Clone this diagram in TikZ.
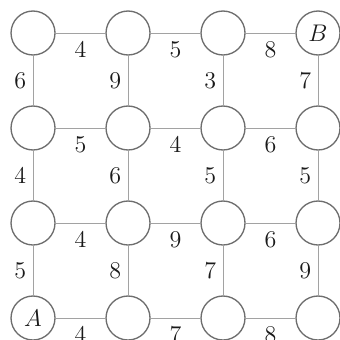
\documentclass[tikz,border=0pt]{standalone}
\usepackage{xcolor}
\usepackage{tikz}
\usetikzlibrary{positioning}
\definecolor{ink}{HTML}{1A1A1A}
\definecolor{edgegray}{HTML}{A2A2A2}
\definecolor{ringgray}{HTML}{6E6E6E}
\begin{document}
\begin{tikzpicture}[node distance=2cm, on grid, every node/.style={font=\Large,text=ink}, v/.style={circle,draw=ringgray,line width=0.8pt,fill=white,minimum size=0.926cm,inner sep=0pt}, e/.style={draw=edgegray,line width=0.6pt}, hw/.style={below=1.5pt}, vw/.style={left=0.5pt}]
\useasboundingbox (-0.695,-0.463) rectangle (6.442,6.695);
% grid of vertices, bottom row first
\node[v] (n11) {$A$};
\node[v,right=of n11] (n21) {};
\node[v,right=of n21] (n31) {};
\node[v,right=of n31] (n41) {};
\node[v,above=of n11] (n12) {};
\node[v,right=of n12] (n22) {};
\node[v,right=of n22] (n32) {};
\node[v,right=of n32] (n42) {};
\node[v,above=of n12] (n13) {};
\node[v,right=of n13] (n23) {};
\node[v,right=of n23] (n33) {};
\node[v,right=of n33] (n43) {};
\node[v,above=of n13] (n14) {};
\node[v,right=of n14] (n24) {};
\node[v,right=of n24] (n34) {};
\node[v,right=of n34] (n44) {$B$};
% horizontal edges
\draw[e] (n14)--(n24) node[midway,hw]{4};\draw[e] (n24)--(n34) node[midway,hw]{5};\draw[e] (n34)--(n44) node[midway,hw]{8};
\draw[e] (n13)--(n23) node[midway,hw]{5};\draw[e] (n23)--(n33) node[midway,hw]{4};\draw[e] (n33)--(n43) node[midway,hw]{6};
\draw[e] (n12)--(n22) node[midway,hw]{4};\draw[e] (n22)--(n32) node[midway,hw]{9};\draw[e] (n32)--(n42) node[midway,hw]{6};
\draw[e] (n11)--(n21) node[midway,hw]{4};\draw[e] (n21)--(n31) node[midway,hw]{7};\draw[e] (n31)--(n41) node[midway,hw]{8};
% vertical edges
\draw[e] (n14)--(n13) node[midway,vw]{6};\draw[e] (n24)--(n23) node[midway,vw]{9};\draw[e] (n34)--(n33) node[midway,vw]{3};\draw[e] (n44)--(n43) node[midway,vw]{7};
\draw[e] (n13)--(n12) node[midway,vw]{4};\draw[e] (n23)--(n22) node[midway,vw]{6};\draw[e] (n33)--(n32) node[midway,vw]{5};\draw[e] (n43)--(n42) node[midway,vw]{5};
\draw[e] (n12)--(n11) node[midway,vw]{5};\draw[e] (n22)--(n21) node[midway,vw]{8};\draw[e] (n32)--(n31) node[midway,vw]{7};\draw[e] (n42)--(n41) node[midway,vw]{9};
\end{tikzpicture}
\end{document}
